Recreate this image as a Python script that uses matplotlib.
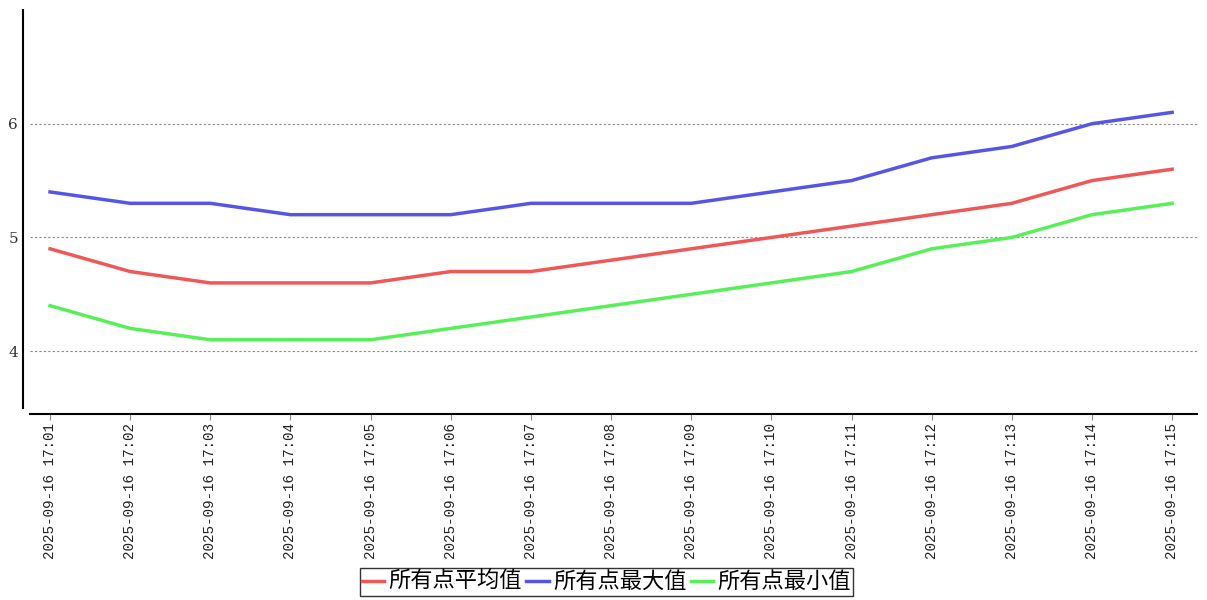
import matplotlib.pyplot as plt

# --- DATA ---
times = ["2025-09-16 17:%02d" % m for m in range(1, 16)]
avg_vals = [4.9, 4.7, 4.6, 4.6, 4.6, 4.7, 4.7, 4.8, 4.9, 5.0, 5.1, 5.2, 5.3, 5.5, 5.6]
max_vals = [5.4, 5.3, 5.3, 5.2, 5.2, 5.2, 5.3, 5.3, 5.3, 5.4, 5.5, 5.7, 5.8, 6.0, 6.1]
min_vals = [4.4, 4.2, 4.1, 4.1, 4.1, 4.2, 4.3, 4.4, 4.5, 4.6, 4.7, 4.9, 5.0, 5.2, 5.3]
labels = ["所有点平均值", "所有点最大值", "所有点最小值"]
y_ticks = [4, 5, 6]

plt.rcParams['font.family'] = ['Noto Sans CJK SC', 'DejaVu Sans']

fig = plt.figure(figsize=(12.07, 6.0), dpi=100)
ax = fig.add_axes([30 / 1207, 192 / 600, 1167 / 1207, 398 / 600])

# spines first: set_position resets the ticks
for s in ["top", "right"]:
    ax.spines[s].set_visible(False)
ax.spines["left"].set_position(("outward", 5))
ax.spines["bottom"].set_position(("outward", 4))
ax.spines["left"].set_linewidth(1.5)
ax.spines["bottom"].set_linewidth(1.5)

x = list(range(len(times)))
ax.plot(x, avg_vals, color="#f05858", lw=2.5, label=labels[0])
ax.plot(x, max_vals, color="#5656e6", lw=2.5, label=labels[1])
ax.plot(x, min_vals, color="#58f058", lw=2.5, label=labels[2])

ax.set_xlim(-0.25, 14.31)
ax.set_ylim(3.5, 7.0)

ax.tick_params(axis="y", length=0, pad=3.5)
ax.tick_params(axis="x", length=4, width=0.8, color="#888888", pad=3)
ax.set_xticks(x)
ax.set_xticklabels(times, rotation=90, fontfamily="Liberation Mono", fontsize=10.3, color="#222222")
ax.set_yticks(y_ticks)
ax.set_yticklabels([str(v) for v in y_ticks], fontfamily="DejaVu Serif", fontsize=11, color="#333333")

ax.grid(axis="y", linestyle=(0, (2, 2)), color="#888888", lw=0.8)
ax.set_axisbelow(True)

leg = fig.legend(loc="lower center", bbox_to_anchor=(0.5025, 0.0), ncol=3, fontsize=16,
                 frameon=True, fancybox=False, edgecolor="black", handlelength=1.0,
                 handletextpad=0.2, columnspacing=0.2, borderpad=0.1, borderaxespad=0.2)
leg.get_frame().set_linewidth(1.0)

fig.savefig("out.png", dpi=100)
